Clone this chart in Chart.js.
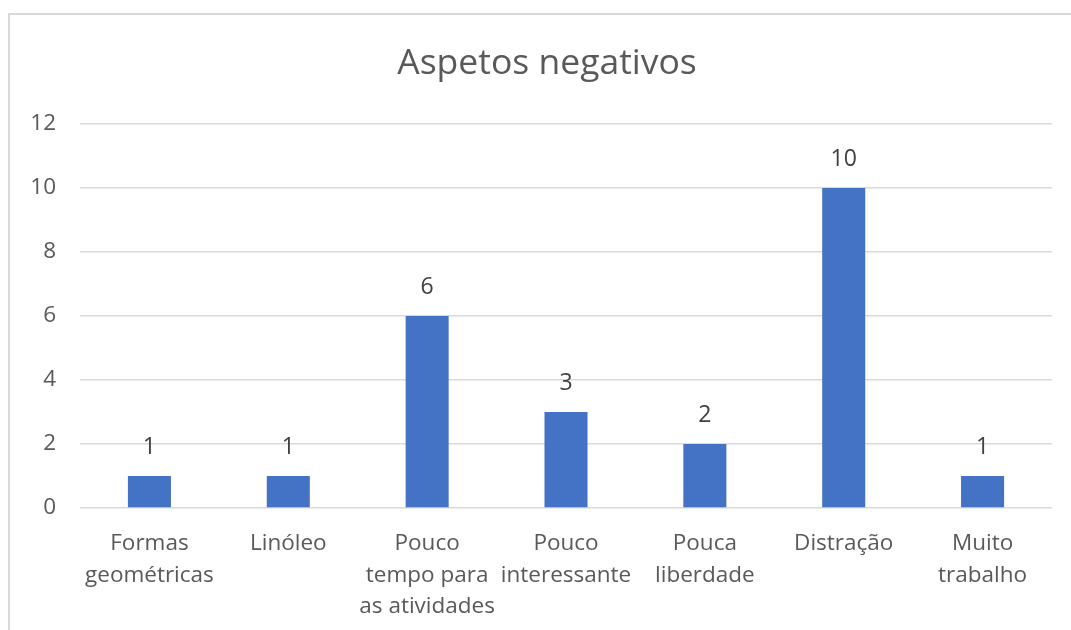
<!DOCTYPE html>
<html>
<head>
<meta charset="utf-8">
<title>Aspetos negativos</title>
<script src="https://cdn.jsdelivr.net/npm/chart.js@4.4.1/dist/chart.umd.min.js"></script>
<style>
  html, body { margin: 0; padding: 0; background: #ffffff; }
  #wrap { position: relative; width: 1071px; height: 630px; }
  canvas { display: block; }
</style>
</head>
<body>
<div id="wrap"><canvas id="chart" width="1071" height="630"></canvas></div>
<script>
// Category names (already split into the lines they are shown on)
const categories = [
  ["Formas", "geométricas"],
  ["Linóleo"],
  ["Pouco", "tempo para", "as atividades"],
  ["Pouco", "interessante"],
  ["Pouca", "liberdade"],
  ["Distração"],
  ["Muito", "trabalho"]
];
// Number of answers per category
const counts = [1, 1, 6, 3, 2, 10, 1];
// Value axis
const yMin = 0;
const yMax = 12;
const yStep = 2;
const chartTitle = "Aspetos negativos";

const FONT = "'Open Sans', 'Noto Sans', sans-serif";
const TEXT_GREY = "#595959";
const GRID_GREY = "#d9d9d9";
const BAR_BLUE = "#4472c4";

// Light frame around the chart plus white background
const framePlugin = {
  id: "frame",
  beforeDraw(chart) {
    const ctx = chart.ctx;
    ctx.save();
    ctx.fillStyle = "#ffffff";
    ctx.fillRect(0, 0, chart.width, chart.height);
    ctx.strokeStyle = GRID_GREY;
    ctx.lineWidth = 2;
    ctx.strokeRect(9, 14, 1200, 800);
    ctx.restore();
  }
};

// Title centred over the whole chart box
const titlePlugin = {
  id: "boxTitle",
  afterDraw(chart) {
    const ctx = chart.ctx;
    ctx.save();
    ctx.font = "35.5px " + FONT;
    ctx.fillStyle = TEXT_GREY;
    ctx.textAlign = "center";
    ctx.textBaseline = "middle";
    ctx.fillText(chartTitle, 547, 64);
    ctx.restore();
  }
};

// Value written above every bar
const valueLabelPlugin = {
  id: "valueLabels",
  afterDatasetsDraw(chart) {
    const ctx = chart.ctx;
    ctx.save();
    ctx.font = "23px " + FONT;
    ctx.fillStyle = "#404040";
    ctx.textAlign = "center";
    ctx.textBaseline = "middle";
    chart.data.datasets.forEach((ds, di) => {
      chart.getDatasetMeta(di).data.forEach((bar, i) => {
        ctx.fillText(String(ds.data[i]), bar.x, bar.y - 29);
      });
    });
    ctx.restore();
  }
};

new Chart(document.getElementById("chart"), {
  type: "bar",
  data: {
    labels: categories,
    datasets: [{
      data: counts,
      backgroundColor: BAR_BLUE,
      borderWidth: 0,
      barPercentage: 0.31,
      categoryPercentage: 1
    }]
  },
  options: {
    responsive: false,
    animation: false,
    devicePixelRatio: 1,
    layout: { padding: { top: 124, right: 19, bottom: 0, left: 0 } },
    plugins: {
      legend: { display: false },
      title: { display: false },
      tooltip: { enabled: false }
    },
    scales: {
      x: {
        grid: { display: false },
        border: { display: false },
        ticks: {
          color: TEXT_GREY,
          font: { family: FONT, size: 22.5, lineHeight: 1.4 },
          padding: 12,
          autoSkip: false,
          maxRotation: 0,
          minRotation: 0
        },
        afterFit(scale) { scale.height = 122; }
      },
      y: {
        min: yMin,
        max: yMax,
        grid: { color: GRID_GREY, lineWidth: 1.5, drawTicks: false },
        border: { display: false },
        ticks: {
          stepSize: yStep,
          color: TEXT_GREY,
          font: { family: FONT, size: 22.5 },
          padding: 24
        },
        afterFit(scale) { scale.width = 80; }
      }
    }
  },
  plugins: [framePlugin, titlePlugin, valueLabelPlugin]
});
</script>
</body>
</html>
